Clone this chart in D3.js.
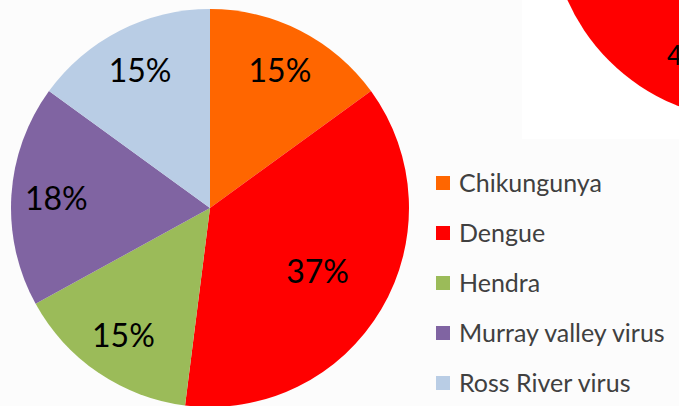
<!DOCTYPE html>
<html>
<head>
<meta charset="utf-8">
<script src="https://cdn.jsdelivr.net/npm/d3@7"></script>
<style>
  html, body { margin: 0; padding: 0; background: #fcfcfc; overflow: hidden; }
  svg { display: block; }
</style>
</head>
<body>
<svg width="679" height="406"></svg>
<script>
const categories = ["Chikungunya", "Dengue", "Hendra", "Murray valley virus", "Ross River virus"];
const values = [15, 37, 15, 18, 15];
const colors = ["#FF6600", "#FF0000", "#9BBB59", "#8064A2", "#B9CDE5"];

const svg = d3.select("svg"),
    width = +svg.attr("width"),
    height = +svg.attr("height");

// corner of the neighbouring chart, cut off by the frame
const inset = svg.append("g");
inset.append("rect")
    .attr("x", 522).attr("y", 0)
    .attr("width", width - 522).attr("height", 139)
    .attr("fill", "#ffffff");
inset.append("circle")
    .attr("cx", 752).attr("cy", -82).attr("r", 202)
    .attr("fill", "#FF0000");
inset.append("text")
    .attr("x", 667).attr("y", 65)
    .style("font-family", "Lato, sans-serif")
    .style("font-size", "26px")
    .attr("fill", "#000")
    .text("4");

const data = categories.map((c, i) => ({ name: c, value: values[i], color: colors[i] }));

const radius = 199,
    cx = 210,
    cy = 208;

const pie = d3.pie().sort(null).value(d => d.value);
const arc = d3.arc().innerRadius(0).outerRadius(radius);

const g = svg.append("g").attr("transform", `translate(${cx},${cy})`);
const arcs = pie(data);

g.selectAll("path")
    .data(arcs)
    .enter().append("path")
    .attr("d", arc)
    .attr("fill", d => d.data.color);

// bigger slices get their label pulled in towards the centre
const labelArc = d => {
    const r = d.data.value > 30 ? 125 : 154;
    return d3.arc().innerRadius(r).outerRadius(r).centroid(d);
};
const total = d3.sum(values);

g.selectAll("text")
    .data(arcs)
    .enter().append("text")
    .attr("transform", d => `translate(${labelArc(d)})`)
    .attr("text-anchor", "middle")
    .attr("dy", "0.36em")
    .style("font-family", "Lato, sans-serif")
    .style("font-size", "32px")
    .attr("fill", "#000")
    .text(d => Math.round(d.data.value / total * 100) + "%");

const legend = svg.append("g")
    .attr("transform", "translate(436,183)")
    .selectAll("g")
    .data(data)
    .enter().append("g")
    .attr("transform", (d, i) => `translate(0,${i * 50})`);

legend.append("rect")
    .attr("x", 0).attr("y", -7)
    .attr("width", 14).attr("height", 14)
    .attr("fill", d => d.color);

legend.append("text")
    .attr("x", 23)
    .attr("dy", "0.36em")
    .style("font-family", "Lato, sans-serif")
    .style("font-size", "25px")
    .attr("fill", "#404040")
    .text(d => d.name);
</script>
</body>
</html>
